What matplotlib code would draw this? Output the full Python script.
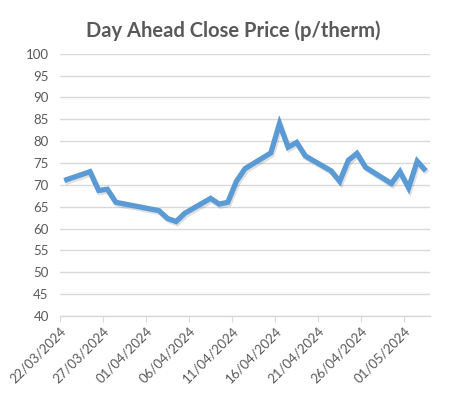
import matplotlib
matplotlib.use("Agg")
import matplotlib.pyplot as plt
import matplotlib.dates as mdates
import matplotlib.patheffects as pe
import pandas as pd

# Day ahead close prices (p/therm), trading days only
dates = ["22/03/2024", "25/03/2024", "26/03/2024", "27/03/2024", "28/03/2024",
         "02/04/2024", "03/04/2024", "04/04/2024", "05/04/2024",
         "08/04/2024", "09/04/2024", "10/04/2024", "11/04/2024", "12/04/2024",
         "15/04/2024", "16/04/2024", "17/04/2024", "18/04/2024", "19/04/2024",
         "22/04/2024", "23/04/2024", "24/04/2024", "25/04/2024", "26/04/2024",
         "29/04/2024", "30/04/2024", "01/05/2024", "02/05/2024", "03/05/2024"]
prices = [71.0, 73.0, 68.7, 69.0, 66.0,
          64.1, 62.3, 61.6, 63.5,
          66.9, 65.6, 66.0, 70.8, 73.7,
          77.3, 84.0, 78.6, 79.7, 76.6,
          73.2, 70.8, 75.6, 77.2, 74.0,
          70.3, 73.0, 69.3, 75.4, 73.2]

tick_dates = ["22/03/2024", "27/03/2024", "01/04/2024", "06/04/2024", "11/04/2024",
              "16/04/2024", "21/04/2024", "26/04/2024", "01/05/2024"]

grey = "#595959"
grid_col = "#d9d9d9"

x = pd.to_datetime(dates, dayfirst=True)
# Excel date axis puts each point in the middle of its day
x_mid = x + pd.Timedelta(hours=12)
ticks = pd.to_datetime(tick_dates, dayfirst=True)

fig = plt.figure(figsize=(4.61, 4.08), dpi=100)
ax = fig.add_axes([0.130, 0.2255, 0.803, 0.643])

ax.plot(x_mid, prices, color="#5B9BD5", linewidth=3.8, solid_joinstyle="miter",
        solid_capstyle="butt",
        path_effects=[pe.SimpleLineShadow(offset=(1, -1.5), shadow_color="#000000", alpha=0.12),
                      pe.Normal()])

ax.set_ylim(40, 100)
ax.set_yticks(range(40, 101, 5))
ax.set_xlim(pd.Timestamp("2024-03-22"), pd.Timestamp("2024-05-04"))
ax.set_xticks(ticks)
ax.xaxis.set_major_formatter(mdates.DateFormatter("%d/%m/%Y"))

ax.grid(axis="y", color=grid_col, linewidth=1)
ax.set_axisbelow(True)
for s in ["top", "right", "left"]:
    ax.spines[s].set_visible(False)
ax.spines["bottom"].set_color(grid_col)
ax.spines["bottom"].set_linewidth(1)

ax.tick_params(axis="y", length=0, labelsize=9.5, labelcolor=grey, pad=8)
ax.tick_params(axis="x", length=4, color=grid_col, labelsize=9.5, labelcolor=grey, pad=2)
for lab in ax.get_xticklabels():
    lab.set_rotation(45)
    lab.set_ha("right")
    lab.set_rotation_mode("anchor")
for lab in ax.get_xticklabels() + ax.get_yticklabels():
    lab.set_family("Lato")

fig.text(0.505, 0.925, "Day Ahead Close Price (p/therm)", ha="center", va="center",
         fontsize=14.5, fontweight="bold", color=grey, family="Lato")

fig.savefig("out.png", dpi=100, facecolor="white")
